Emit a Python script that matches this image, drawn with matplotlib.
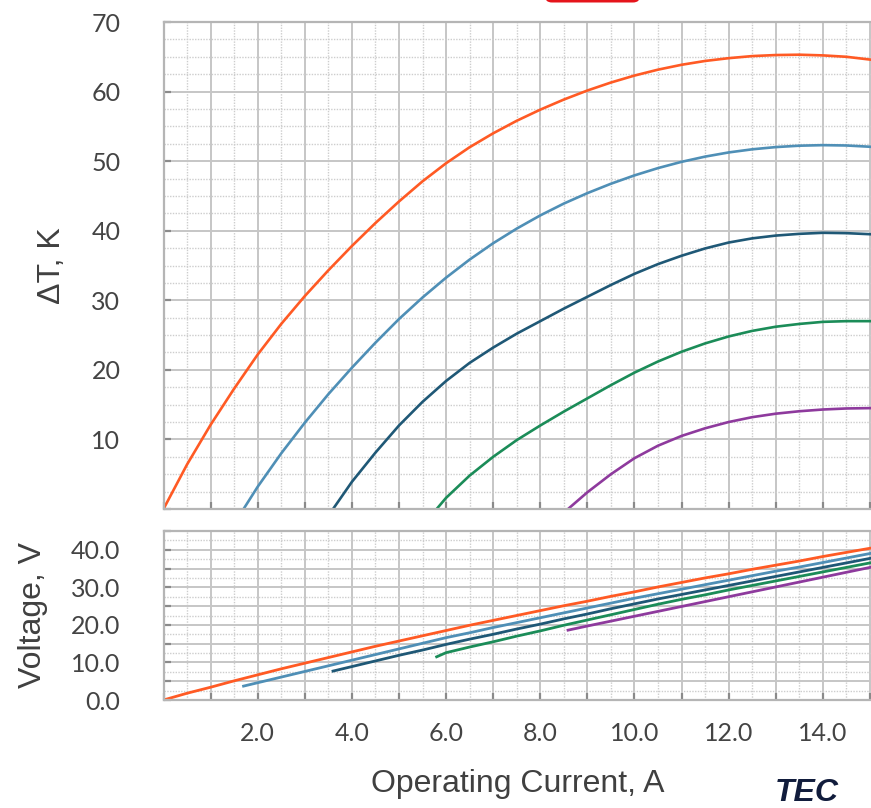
import matplotlib
matplotlib.use("Agg")
import matplotlib.pyplot as plt
from matplotlib.ticker import MultipleLocator, FuncFormatter
from matplotlib.patches import FancyBboxPatch

# --- data --------------------------------------------------------------
# operating current (A) for each curve
I_red = [0, 0.5, 1, 1.5, 2, 2.5, 3, 3.5, 4, 4.5, 5, 5.5, 6, 6.5, 7, 7.5, 8, 8.5,
         9, 9.5, 10, 10.5, 11, 11.5, 12, 12.5, 13, 13.5, 14, 14.5, 15, 15.5, 16]
I_blue = [1.7, 2, 2.5, 3, 3.5, 4, 4.5, 5, 5.5, 6, 6.5, 7, 7.5, 8, 8.5, 9, 9.5,
          10, 10.5, 11, 11.5, 12, 12.5, 13, 13.5, 14, 14.5, 15, 15.5, 16]
I_navy = [3.6, 4, 4.5, 5, 5.5, 6, 6.5, 7, 7.5, 8, 8.5, 9, 9.5, 10, 10.5, 11,
          11.5, 12, 12.5, 13, 13.5, 14, 14.5, 15, 15.5, 16]
I_green = [5.8, 6, 6.5, 7, 7.5, 8, 8.5, 9, 9.5, 10, 10.5, 11, 11.5, 12, 12.5,
           13, 13.5, 14, 14.5, 15, 15.5, 16]
I_purple = [8.59, 9, 9.5, 10, 10.5, 11, 11.5, 12, 12.5, 13, 13.5, 14, 14.5, 15,
            15.5, 16]

# delta T (K)
dT_red = [0, 6.4, 12.1, 17.3, 22.2, 26.6, 30.6, 34.3, 37.8, 41.1, 44.2, 47.1,
          49.7, 52.0, 54.0, 55.8, 57.4, 58.85, 60.15, 61.3, 62.3, 63.15, 63.85,
          64.4, 64.8, 65.1, 65.25, 65.3, 65.2, 65.0, 64.6, 64.15, 63.55]
dT_blue = [0, 3.2, 8.0, 12.4, 16.5, 20.3, 23.9, 27.3, 30.4, 33.25, 35.85, 38.2,
           40.3, 42.2, 43.9, 45.4, 46.75, 47.95, 49.0, 49.9, 50.65, 51.25, 51.7,
           52.02, 52.22, 52.3, 52.25, 52.07, 51.77, 51.35]
dT_navy = [0, 3.9, 8.1, 12.0, 15.4, 18.4, 21.0, 23.2, 25.2, 27.0, 28.8, 30.5,
           32.2, 33.8, 35.2, 36.4, 37.45, 38.3, 38.9, 39.3, 39.55, 39.7, 39.65,
           39.5, 39.25, 38.9]
dT_green = [0, 1.6, 4.8, 7.5, 9.9, 12.0, 14.0, 15.9, 17.8, 19.6, 21.2, 22.6,
            23.8, 24.8, 25.6, 26.2, 26.6, 26.9, 27.0, 27.0, 26.9, 26.7]
dT_purple = [0, 2.4, 5.0, 7.3, 9.1, 10.5, 11.6, 12.5, 13.2, 13.7, 14.05, 14.3,
             14.45, 14.5, 14.5, 14.4]

# voltage (V)
V_red = [0, 1.8, 3.4, 5.1, 6.7, 8.3, 9.8, 11.3, 12.8, 14.3, 15.7, 17.1, 18.5,
         19.9, 21.2, 22.5, 23.8, 25.1, 26.3, 27.6, 28.8, 30.1, 31.3, 32.5, 33.6,
         34.8, 35.9, 37.0, 38.2, 39.3, 40.4, 41.5, 42.5]
V_blue = [3.7, 4.6, 6.1, 7.6, 9.1, 10.6, 12.1, 13.6, 15.1, 16.6, 17.9, 19.3,
          20.6, 21.9, 23.2, 24.5, 25.8, 27.1, 28.3, 29.5, 30.7, 31.9, 33.1,
          34.3, 35.4, 36.6, 37.8, 39.0, 40.2, 41.4]
V_navy = [7.7, 8.9, 10.4, 11.9, 13.3, 14.8, 16.2, 17.5, 18.9, 20.2, 21.6, 22.9,
          24.3, 25.6, 26.9, 28.1, 29.3, 30.5, 31.7, 32.9, 34.1, 35.3, 36.5,
          37.7, 38.9, 40.1]
V_green = [11.5, 12.6, 14.1, 15.5, 17.0, 18.4, 19.9, 21.3, 22.7, 24.1, 25.5,
           26.8, 28.0, 29.3, 30.5, 31.7, 32.9, 34.1, 35.3, 36.5, 37.7, 38.9]
V_purple = [18.6, 19.7, 21.0, 22.3, 23.6, 24.9, 26.2, 27.5, 28.8, 30.1, 31.4,
            32.7, 34.0, 35.3, 36.6, 37.9]

series = [
    (I_red, dT_red, V_red, "#ff5a24"),
    (I_blue, dT_blue, V_blue, "#4f8fb6"),
    (I_navy, dT_navy, V_navy, "#1f5876"),
    (I_green, dT_green, V_green, "#1b8c58"),
    (I_purple, dT_purple, V_purple, "#8e3a9d"),
]

plt.rcParams["font.family"] = ["Lato", "DejaVu Sans"]

W, H = 871, 808
fig = plt.figure(figsize=(W / 100, H / 100), dpi=100)
fig.patch.set_facecolor("white")


def px_axes(left, top, right, bottom):
    return fig.add_axes([left / W, 1 - bottom / H, (right - left) / W, (bottom - top) / H])


# the plot area runs past the right edge of the image, like the reference crop
ax1 = px_axes(163.5, 22, 917, 509)
ax2 = px_axes(163.5, 531, 917, 700)

for ax in (ax1, ax2):
    ax.set_xlim(0, 16)
    ax.xaxis.set_major_locator(MultipleLocator(1))
    ax.xaxis.set_minor_locator(MultipleLocator(0.5))
    ax.grid(which="major", color="#c6c6c6", linewidth=1.4, linestyle="-")
    ax.grid(which="minor", color="#cdcdcd", linewidth=1.0, linestyle=(0, (1, 1)))
    ax.set_axisbelow(True)
    for s in ax.spines.values():
        s.set_color("#b5b5b5")
        s.set_linewidth(1.6)
    ax.tick_params(which="major", direction="in", length=5, width=1.6, color="#8a8a8a",
                   labelsize=18, labelcolor="#444444")
    ax.tick_params(which="minor", length=0)
    ax.tick_params(axis="y", pad=31)
    ax.tick_params(axis="x", pad=16)

# top: delta T
ax1.set_ylim(0, 70)
ax1.yaxis.set_major_locator(MultipleLocator(10))
ax1.yaxis.set_minor_locator(MultipleLocator(2.5))
ax1.yaxis.set_major_formatter(FuncFormatter(lambda v, p: f"{v:.0f}" if v > 0 else ""))
ax1.xaxis.set_major_formatter(FuncFormatter(lambda v, p: ""))

# bottom: voltage
ax2.set_ylim(0, 45)
ax2.yaxis.set_major_locator(MultipleLocator(5))
ax2.yaxis.set_minor_locator(MultipleLocator(2.5))
ax2.yaxis.set_major_formatter(FuncFormatter(lambda v, p: f"{v:.1f}" if round(v) % 10 == 0 else ""))
ax2.xaxis.set_major_formatter(
    FuncFormatter(lambda v, p: f"{v:.1f}" if 0 < v <= 14 and round(v) % 2 == 0 else ""))

for cur, dt, volt, col in series:
    ax1.plot(cur, dt, color=col, linewidth=1.9, solid_joinstyle="round")
    ax2.plot(cur, volt, color=col, linewidth=2.0, solid_joinstyle="round")

# axis titles
label_kw = dict(family=["Liberation Sans", "DejaVu Sans"], fontsize=23, color="#404040")
ax1.set_ylabel("ΔT, K", **label_kw)
ax1.yaxis.label.set_va("center")
ax1.yaxis.set_label_coords((52 - 163.5) / 753.5, 0.5)
ax2.set_ylabel("Voltage, V", **label_kw)
ax2.yaxis.label.set_va("center")
ax2.yaxis.set_label_coords((33 - 163.5) / 753.5, 0.5)
ax2.set_xlabel("Operating Current, A", **label_kw)
ax2.xaxis.label.set_va("center")
ax2.xaxis.set_label_coords((518 - 163.5) / 753.5, -(784 - 700) / 169)

# cropped red badge at the top and the logo in the corner
fig.patches.append(FancyBboxPatch((545 / W, 1 - 2.5 / H), 95 / W, 20 / H,
                                  boxstyle="round,pad=0,rounding_size=0.008",
                                  transform=fig.transFigure, facecolor="#e5141b",
                                  edgecolor="none", figure=fig))
fig.text(775 / W, 1 - 801 / H, "TEC", family=["Liberation Sans", "DejaVu Sans"],
         fontsize=23, fontweight="bold", fontstyle="italic", color="#111c3c",
         ha="left", va="baseline")

fig.savefig("out.png", dpi=100, facecolor="white")
